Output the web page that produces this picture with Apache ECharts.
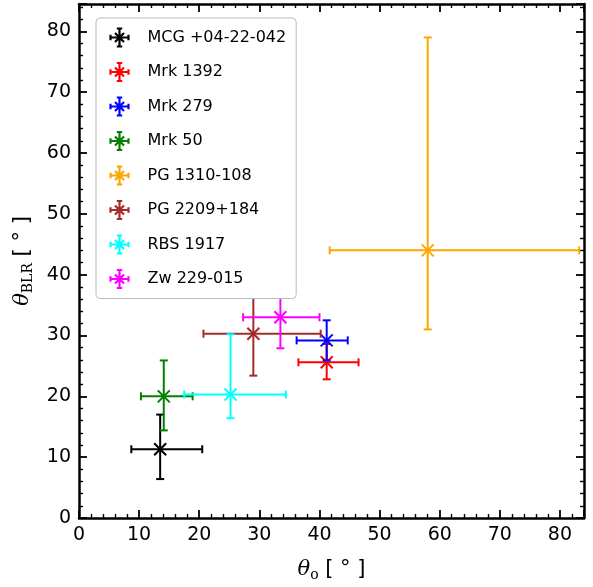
<!DOCTYPE html>
<html><head><meta charset="utf-8">
<script src="https://cdn.jsdelivr.net/npm/echarts@6/dist/echarts.min.js"></script>
<style>html,body{margin:0;padding:0;background:#fff}#c{width:593px;height:587px}</style>
</head><body><div id="c"></div>
<script>
const names = ['MCG +04-22-042','Mrk 1392','Mrk 279','Mrk 50','PG 1310-108','PG 2209+184','RBS 1917','Zw 229-015'];
const colors = ['#000000','#ff0000','#0000ff','#008000','#ffa500','#a52a2a','#00ffff','#ff00ff'];
const thetaO = [13.5, 41.2, 41.2, 14.1, 58.0, 29.0, 25.2, 33.5];
const thetaOLow = [8.7, 36.5, 36.2, 10.3, 41.7, 20.7, 17.5, 27.3];
const thetaOHigh = [20.5, 46.5, 44.7, 18.9, 83.2, 40.2, 34.4, 40.0];
const thetaBLR = [11.3, 25.6, 29.2, 20.0, 44.0, 30.3, 20.3, 33.0];
const thetaBLRLow = [6.4, 22.8, 25.9, 14.4, 31.0, 23.4, 16.4, 27.9];
const thetaBLRHigh = [17.0, 28.6, 32.5, 25.9, 79.0, 39.0, 30.2, 39.2];
const xTicks = [0,10,20,30,40,50,60,70,80];
const yTicks = [0,10,20,30,40,50,60,70,80];

const icon = 'path://M0,10L20,10M0,7L0,13M20,7L20,13M10,0L10,20M7,0L13,0M7,20L13,20M5,5L15,15M15,5L5,15';

function renderItem(params, api){
  const c = api.coord([api.value(0), api.value(1)]);
  const xl = api.coord([api.value(2), api.value(1)])[0];
  const xh = api.coord([api.value(3), api.value(1)])[0];
  const yl = api.coord([api.value(0), api.value(4)])[1];
  const yh = api.coord([api.value(0), api.value(5)])[1];
  const col = api.visual('color');
  const st = {stroke: col, lineWidth: 2, fill: null};
  const cap = 4, m = 6;
  const L = (x1,y1,x2,y2)=>({type:'line', shape:{x1,y1,x2,y2}, style:st});
  return {type:'group', children:[
    L(xl,c[1],xh,c[1]), L(xl,c[1]-cap,xl,c[1]+cap), L(xh,c[1]-cap,xh,c[1]+cap),
    L(c[0],yl,c[0],yh), L(c[0]-cap,yl,c[0]+cap,yl), L(c[0]-cap,yh,c[0]+cap,yh),
    L(c[0]-m,c[1]-m,c[0]+m,c[1]+m), L(c[0]+m,c[1]-m,c[0]-m,c[1]+m)
  ]};
}

const series = names.map((n,i)=>({
  name:n, type:'custom', renderItem, color: colors[i],
  encode:{x:0,y:1},
  data:[[thetaO[i], thetaBLR[i], thetaOLow[i], thetaOHigh[i], thetaBLRLow[i], thetaBLRHigh[i]]]
}));

const ax = (max, extra)=>Object.assign({
  min:0, max, interval:10, splitLine:{show:false},
  axisLine:{show:true, onZero:false, lineStyle:{color:'#000', width:2.5}},
  axisTick:{show:true, inside:true, length:8, lineStyle:{color:'#000', width:1.8}},
  minorTick:{show:true, splitNumber:5, length:4, lineStyle:{color:'#000', width:1.4}},
  axisLabel:{color:'#000', fontSize:19, fontFamily:'DejaVu Sans', margin:8, showMaxLabel:false,
    formatter:v=>(xTicks.includes(v)?String(v):'')}
}, extra);

const nameStyle = {rich:{t:{fontSize:21,fontStyle:'italic',fontFamily:'DejaVu Serif'},s:{fontSize:14,verticalAlign:'bottom',padding:[10,0,0,0],fontFamily:'DejaVu Serif'}}, fontSize:21, fontFamily:'DejaVu Sans'};

const chart = echarts.init(document.getElementById('c'));
chart.setOption({
  animation:false,
  grid:{left:79, top:4, right:9, bottom:67},
  legend:{
    data:names.map((n,i)=>({name:n, icon, itemStyle:{color:'none', borderColor:colors[i], borderWidth:2.2}})),
    orient:'vertical', left:96, top:18,
    itemWidth:18, itemHeight:18, itemGap:11.5,
    textStyle:{fontSize:16, fontFamily:'DejaVu Sans', color:'#000', padding:[0,0,0,14]},
    backgroundColor:'#fff', borderColor:'#bbb', borderWidth:1, borderRadius:4, padding:[8,10,8,12]
  },
  xAxis:[
    ax(84,{name:'{t|θ}{s|o} [ ° ]', nameLocation:'middle', nameGap:40, nameTextStyle:nameStyle}),
    ax(84,{position:'top', axisLabel:{show:false}})
  ],
  yAxis:[
    ax(84.5,{name:'{t|θ}{s|BLR} [ ° ]', nameLocation:'middle', nameGap:44, nameTextStyle:nameStyle,
      axisLabel:{color:'#000', fontSize:19, fontFamily:'DejaVu Sans', margin:8, formatter:v=>(yTicks.includes(v)?String(v):'')}}),
    ax(84.5,{position:'right', axisLabel:{show:false}})
  ],
  series
});
</script></body></html>
